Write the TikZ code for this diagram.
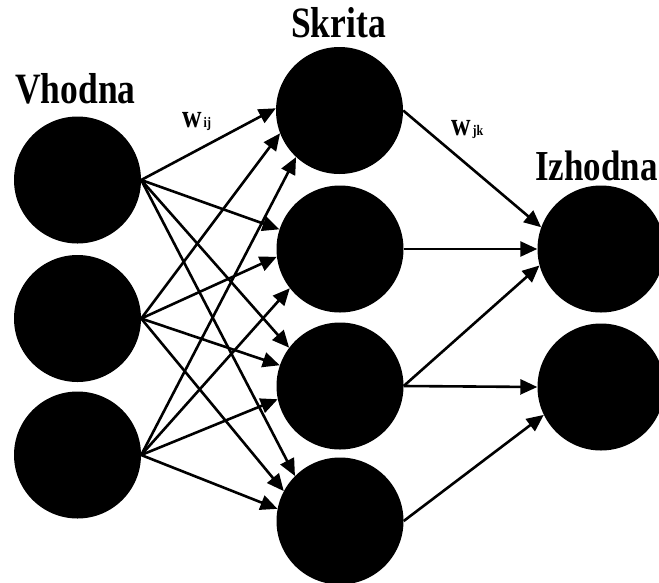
\documentclass[tikz,border=0pt]{standalone}
\usepackage{fontspec}
\setmainfont{Liberation Serif}
\usetikzlibrary{arrows.meta}

\tikzset{
  neuron/.style={circle, fill=black, draw=none, minimum size=127pt, inner sep=0pt},
  link/.style={line width=2.6pt, -{Triangle[length=17pt,width=15pt]}},
  layertitle/.style={anchor=base west, inner sep=0pt, font=\bfseries},
  weightlabel/.style={anchor=base west, inner sep=0pt, font=\bfseries},
}
\newcommand{\tallbold}[2]{\scalebox{1}[1.22]{\fontsize{#1}{#1}\selectfont #2}}

\begin{document}
\begin{tikzpicture}[x=1pt, y=-1pt]
  \useasboundingbox (0,0) rectangle (659,582);

  % input layer
  \node[neuron] (i1) at (77.5,180) {};
  \node[neuron] (i2) at (77.5,318.5) {};
  \node[neuron] (i3) at (77.5,455) {};

  % hidden layer
  \node[neuron] (h1) at (339.5,110.5) {};
  \node[neuron] (h2) at (340,249) {};
  \node[neuron] (h3) at (340,386) {};
  \node[neuron] (h4) at (340,521) {};

  % output layer
  \node[neuron] (o1) at (601,249) {};
  \node[neuron] (o2) at (601,387) {};

  % layer titles
  \node[layertitle] (tin)  at (15,103)  {\tallbold{35.5}{Vhodna}};
  \node[layertitle] (thid) at (291,37)  {\tallbold{35.5}{Skrita}};
  \node[layertitle] (tout) at (535,180) {\tallbold{35}{Izhodna}};

  % weight labels
  \node[weightlabel] (wij) at (182,127) {\tallbold{27}{w\fontsize{12}{12}\selectfont\,ij}};
  \node[weightlabel] (wjk) at (451,135) {\tallbold{27}{w\fontsize{12}{12}\selectfont\,jk}};

  % input -> hidden
  \draw[link] (i1.east) -- (h1.178);
  \draw[link] (i2.east) -- (h1.201);
  \draw[link] (i3.east) -- (h1.227);
  \draw[link] (i1.east) -- (h2.162);
  \draw[link] (i2.east) -- (h2.187);
  \draw[link] (i3.east) -- (h2.218);
  \draw[link] (i1.east) -- (h3.143);
  \draw[link] (i2.east) -- (h3.161);
  \draw[link] (i3.east) -- (h3.192);
  \draw[link] (i1.east) -- (h4.135);
  \draw[link] (i2.east) -- (h4.152);
  \draw[link] (i3.east) -- (h4.169);

  % hidden -> output
  \draw[link] (h1.east) -- (o1.160);
  \draw[link] (h2.east) -- (o1.180);
  \draw[link] (h3.east) -- (o1.195);
  \draw[link] (h3.east) -- (o2.180);
  \draw[link] (h4.east) -- (o2.206);
\end{tikzpicture}
\end{document}
